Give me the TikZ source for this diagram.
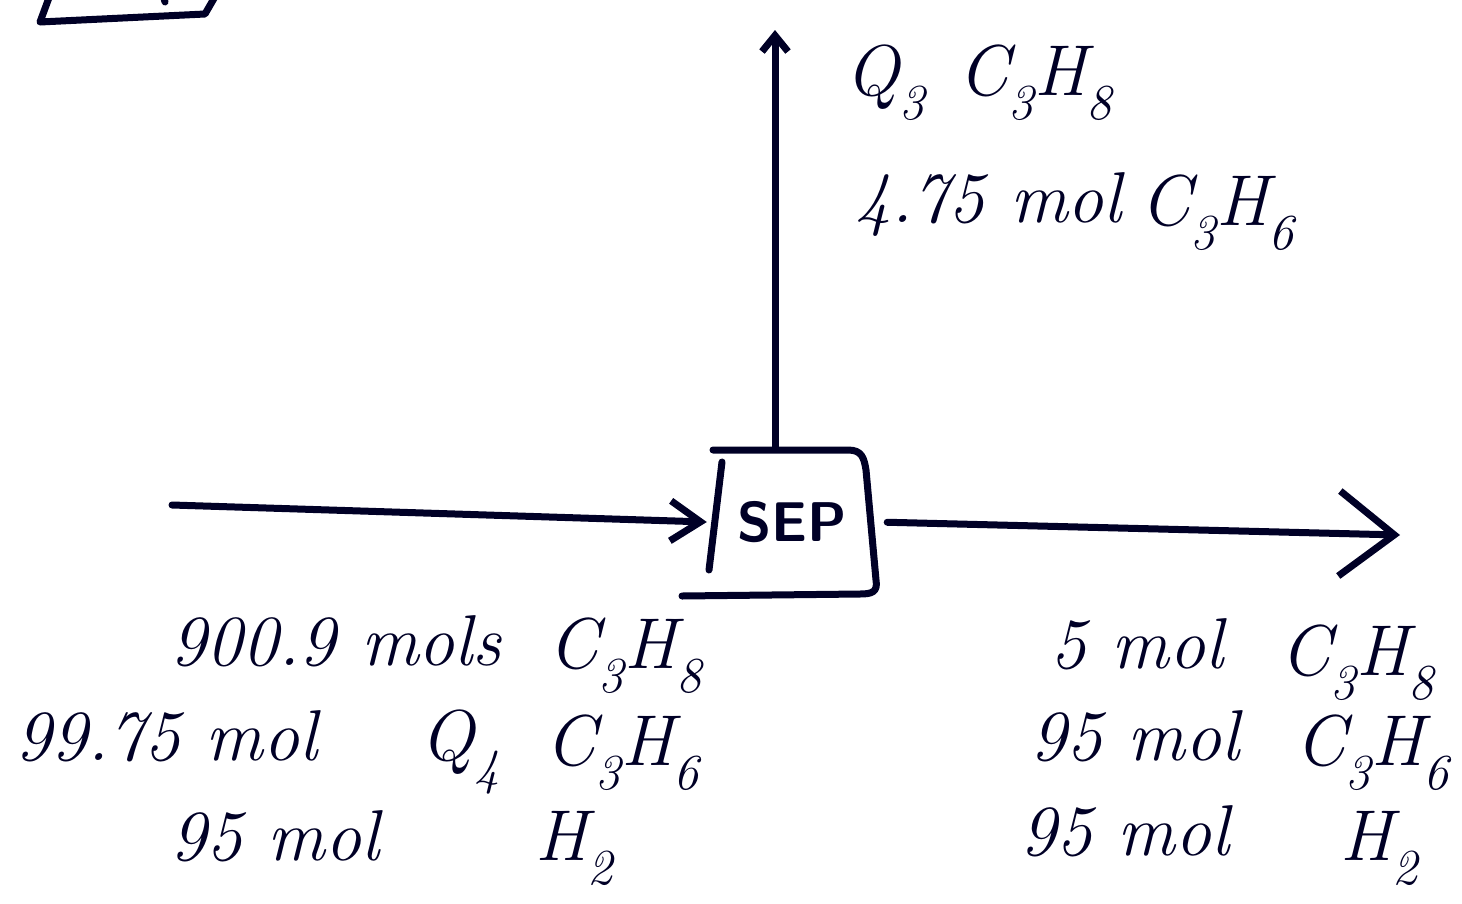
\documentclass[tikz,border=0pt]{standalone}
\usetikzlibrary{arrows.meta}
\newcommand{\sub}[1]{\textsubscript{#1}}
\begin{document}
\begin{tikzpicture}[x=1pt,y=-1pt,
  ink/.style={line width=7pt, line cap=round, line join=round, draw=black!85!blue},
  lbl/.style={anchor=base west, inner sep=0pt, font=\fontsize{72}{78}\selectfont\itshape, text=black!85!blue},
  sepbox/.style={minimum width=170pt, minimum height=145pt, inner sep=0pt, font=\fontsize{56}{60}\selectfont\sffamily\bfseries, text=black!85!blue}]
\useasboundingbox (0,0) rectangle (1462,903);
% partial box at top left
\draw[ink] (50,-5) -- (40,22) -- (205,14) -- (216,-5);
\draw[ink] (163,-5) -- (165,2);
% separator
\node[sepbox] (sep) at (792,522) {SEP};
\draw[ink] (713,450) -- (848,450) .. controls (862,450) and (864,458) .. (866,470) -- (876,580) .. controls (878,592) and (872,594) .. (860,594) -- (682,596);
\draw[ink] (722,462) -- (709,570);
% streams
\coordinate (topend) at (775,30);
\coordinate (inStart) at (172,505);
\coordinate (outEnd) at (1400,535);
\draw[ink, -{Straight Barb[length=16pt,width=26pt]}] (sep.north -| topend) -- (topend);
\draw[ink, -{Straight Barb[length=30pt,width=40pt]}] (inStart) -- (sep.west);
\draw[ink, shorten <=10pt, -{Straight Barb[length=55pt,width=85pt]}] (sep.east) -- (outEnd);
% top labels
\node[lbl] (q3) at (845,95) {Q\sub{3}};
\node[lbl] (tc38) at (958,95) {C\sub{3}H\sub{8}};
\node[lbl] (tn) at (855,222) {4.75 mol};
\node[lbl] (tc36) at (1140,225) {C\sub{3}H\sub{6}};
% left labels
\node[lbl] (l1n) at (170,665) {900.9 mols};
\node[lbl] (l1c) at (548,668) {C\sub{3}H\sub{8}};
\node[lbl] (l2n) at (15,760) {99.75 mol};
\node[lbl] (q4) at (420,760) {Q\sub{4}};
\node[lbl] (l2c) at (545,765) {C\sub{3}H\sub{6}};
\node[lbl] (l3n) at (170,860) {95 mol};
\node[lbl] (l3c) at (535,860) {H\sub{2}};
% right labels
\node[lbl] (r1n) at (1050,668) {5 mol};
\node[lbl] (r1c) at (1280,675) {C\sub{3}H\sub{8}};
\node[lbl] (r2n) at (1030,760) {95 mol};
\node[lbl] (r2c) at (1295,765) {C\sub{3}H\sub{6}};
\node[lbl] (r3n) at (1020,855) {95 mol};
\node[lbl] (r3c) at (1340,860) {H\sub{2}};
\end{tikzpicture}
\end{document}
